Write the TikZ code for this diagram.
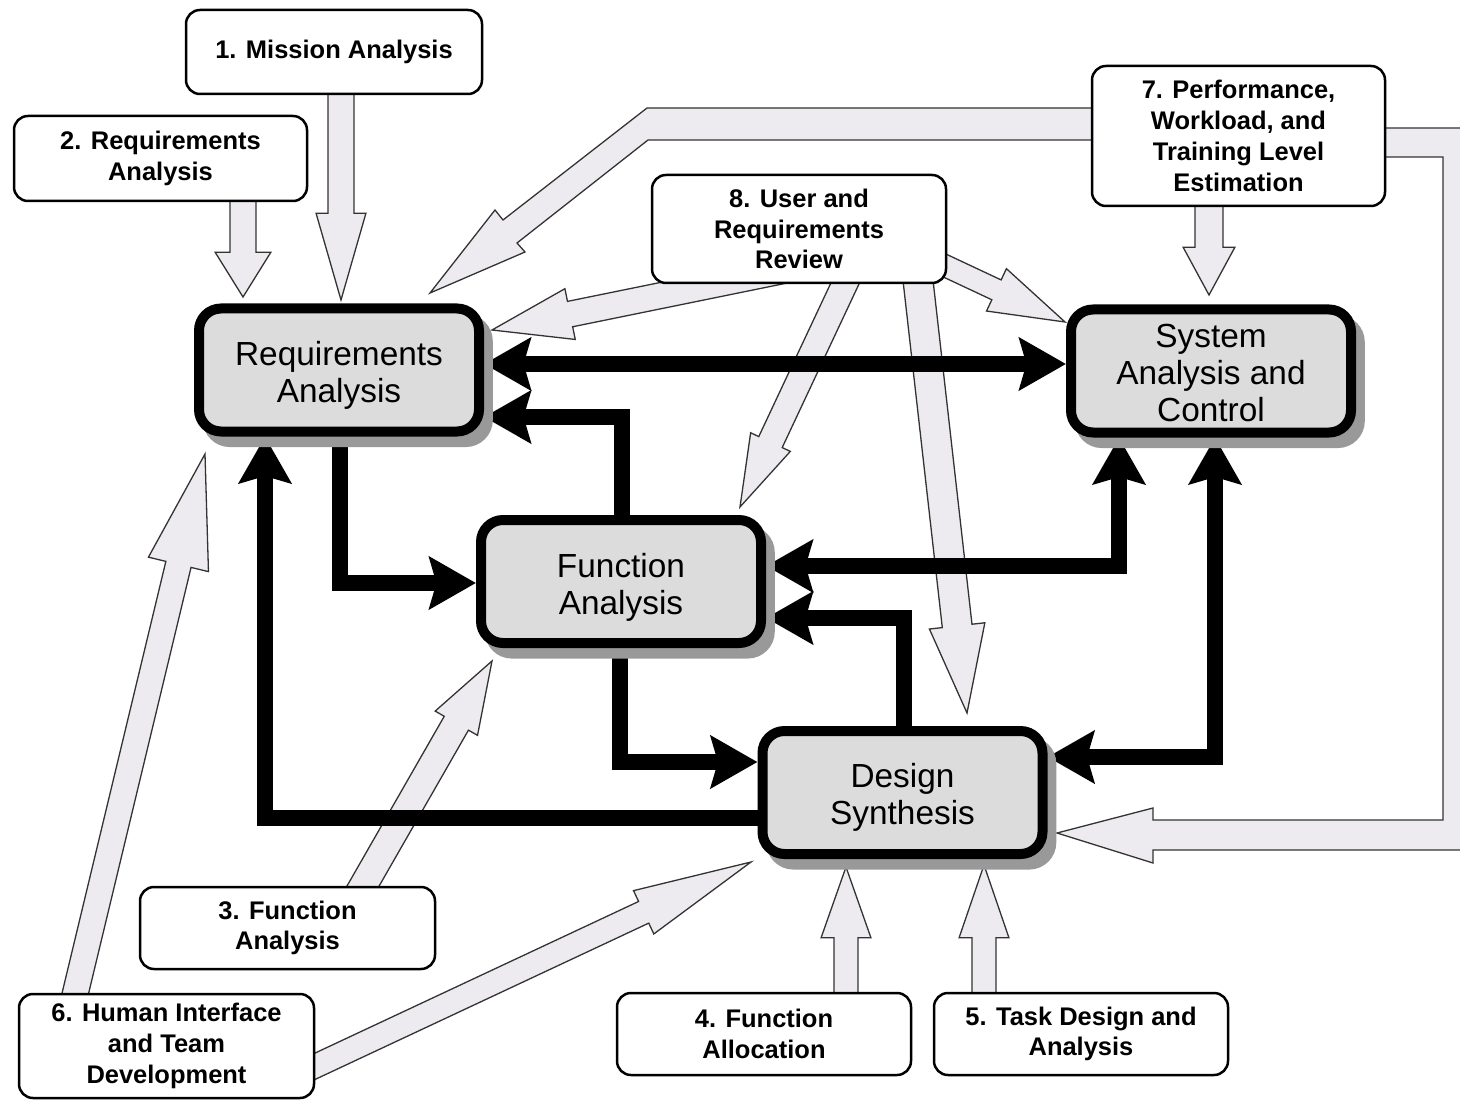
\documentclass[tikz,border=0pt]{standalone}
\usepackage{fontspec}
\newfontfamily\lsans{Liberation Sans}
\usetikzlibrary{calc,arrows.meta,shadows}
\newlength\px \setlength\px{0.02cm}
\pgfdeclarelayer{bg}\pgfdeclarelayer{mid}\pgfsetlayers{bg,mid,main}
\definecolor{boxgray}{HTML}{DCDCDC}
\definecolor{arrfill}{HTML}{EEEBF0}
\definecolor{shadowgray}{HTML}{999999}
\definecolor{arrline}{HTML}{333333}
\newcommand\topstrut[1][20pt]{\rule{0pt}{#1}}
\tikzset{
 mainbox/.style={draw=black, line width=10\px, rounded corners=22\px, fill=boxgray,
   minimum width=280\px, minimum height=123\px, inner sep=0pt, align=center,
   font=\lsans\fontsize{19pt}{21pt}\selectfont,
   general shadow={fill=shadowgray, draw=shadowgray, shadow xshift=5pt, shadow yshift=-6pt}},
 smallbox/.style={draw=black, line width=2.5\px, rounded corners=14\px, fill=white,
   inner sep=0pt, align=center, font=\lsans\bfseries\fontsize{14.5pt}{17.5pt}\selectfont},
 blk/.style={fill=arrfill, draw=arrline, line width=1.3\px, line join=miter},
 bk/.style={line width=16\px, draw=black},
}
\newcommand\blockarrow[5]{%
 \pgfmathsetlengthmacro\baS{#3*0.56693pt}%
 \pgfmathsetlengthmacro\baH{#4*0.56693pt}%
 \pgfmathsetlengthmacro\baL{#5*0.56693pt}%
 \coordinate (bah) at ($(#2)!\baL!(#1)$);
 \draw[blk] ($(#1)!\baS!90:(#2)$) -- ($(bah)!\baS!-90:(#1)$) -- ($(bah)!\baH!-90:(#1)$) -- (#2)
   -- ($(bah)!\baH!90:(#1)$) -- ($(bah)!\baS!90:(#1)$) -- ($(#1)!\baS!-90:(#2)$) -- cycle;}
\begin{document}
\begin{tikzpicture}[x=0.02cm, y=-0.02cm, >={Stealth[length=26.5pt, width=29.5pt, inset=4pt]}]
\useasboundingbox (0,0) rectangle (1460,1101);
% main boxes
\node[mainbox] (RA)  at (339,370)   {\topstrut Requirements\\Analysis};
\node[mainbox] (SAC) at (1211,371)  {\topstrut[16pt]System\\Analysis and\\Control};
\node[mainbox] (FA)  at (621,581.5) {\topstrut Function\\Analysis};
\node[mainbox] (DS)  at (902.5,792.5) {\topstrut[19pt]Design\\Synthesis};
% small boxes
\node[smallbox, minimum width=296\px, minimum height=84\px]  (b1) at (334,52)     {1. Mission Analysis};
\node[smallbox, minimum width=293\px, minimum height=85\px]  (b2) at (160.5,158.5) {2. Requirements\\Analysis};
\node[smallbox, minimum width=293\px, minimum height=140\px] (b7) at (1238.5,136)  {7. Performance,\\Workload, and\\Training Level\\Estimation};
\node[smallbox, minimum width=294\px, minimum height=108\px] (b8) at (799,229)     {8. User and\\Requirements\\Review};
\node[smallbox, minimum width=295\px, minimum height=82\px]  (b3) at (287.5,928)   {3. Function\\Analysis};
\node[smallbox, minimum width=295\px, minimum height=104\px] (b6) at (166.5,1046)  {6. Human Interface\\and Team\\Development};
\node[smallbox, minimum width=294\px, minimum height=82\px]  (b4) at (764,1034)    {4. Function\\Allocation};
\node[smallbox, minimum width=294\px, minimum height=82\px]  (b5) at (1081,1034)   {5. Task Design and\\Analysis};
% black connectors
\begin{pgfonlayer}{mid}
\draw[bk, <->] (RA.east |- 0,364) -- (SAC.west |- 0,364);
\draw[bk, ->] (FA.north -| 622,0) |- (RA.east |- 0,417);
\draw[bk, ->] (RA.south -| 340,0) |- (FA.west |- 0,583);
\draw[bk, ->] (DS.west |- 0,818) -| (RA.south -| 265,0);
\draw[bk, ->] (FA.south -| 620,0) |- (DS.west |- 0,762);
\draw[bk, ->] (DS.north -| 904,0) |- (FA.east |- 0,618);
\draw[bk, <->] (FA.east |- 0,566) -| (SAC.south -| 1119,0);
\draw[bk, <->] (DS.east |- 0,757) -| (SAC.south -| 1215,0);
\end{pgfonlayer}
% grey block arrows
\begin{pgfonlayer}{bg}
\coordinate (g1s) at (341,60);   \coordinate (g1e) at (341,300);
\coordinate (g2s) at (243,170);  \coordinate (g2e) at (243,297);
\coordinate (g3s) at (1209,170); \coordinate (g3e) at (1209,295);
\coordinate (g4s) at (846,1030); \coordinate (g4e) at (846,867);
\coordinate (g5s) at (984,1030); \coordinate (g5e) at (984,865);
\coordinate (g6s) at (343,921);  \coordinate (g6e) at (492,661);
\coordinate (g7s) at (66,1032);  \coordinate (g7e) at (205,454);
\coordinate (g8s) at (290,1078); \coordinate (g8e) at (751,862);
\coordinate (g9s) at (850,257);  \coordinate (g9e) at (492,330);
\coordinate (g10s) at (863,245); \coordinate (g10e) at (740,507);
\coordinate (g11s) at (914,245); \coordinate (g11e) at (967,713);
\coordinate (g12s) at (903,246); \coordinate (g12e) at (1065,322);
\blockarrow{g1s}{g1e}{13}{25}{87}
\blockarrow{g2s}{g2e}{13}{28}{45}
\blockarrow{g3s}{g3e}{14}{26}{48}
\blockarrow{g4s}{g4e}{12}{25}{71}
\blockarrow{g5s}{g5e}{12}{25}{73}
\blockarrow{g6s}{g6e}{14}{24.5}{72}
\blockarrow{g7s}{g7e}{13}{31}{114}
\blockarrow{g8s}{g8e}{12}{24}{119}
\blockarrow{g9s}{g9e}{13}{26}{80}
\blockarrow{g10s}{g10e}{13}{22}{72}
\blockarrow{g11s}{g11e}{15}{28}{88}
\blockarrow{g12s}{g12e}{11}{23.5}{76}
\draw[blk] (1120,108) -- (647,108) -- (503,220) -- (495,210) -- (430,293) -- (525,252)
   -- (517,243) -- (648,140) -- (1120,140) -- cycle;
\draw[blk] (1360,128) -- (1475,128) -- (1475,850) -- (1153,850) -- (1153,863) -- (1057,833)
   -- (1153,808) -- (1153,820) -- (1443,820) -- (1443,157) -- (1360,157) -- cycle;
\end{pgfonlayer}
\end{tikzpicture}
\end{document}
